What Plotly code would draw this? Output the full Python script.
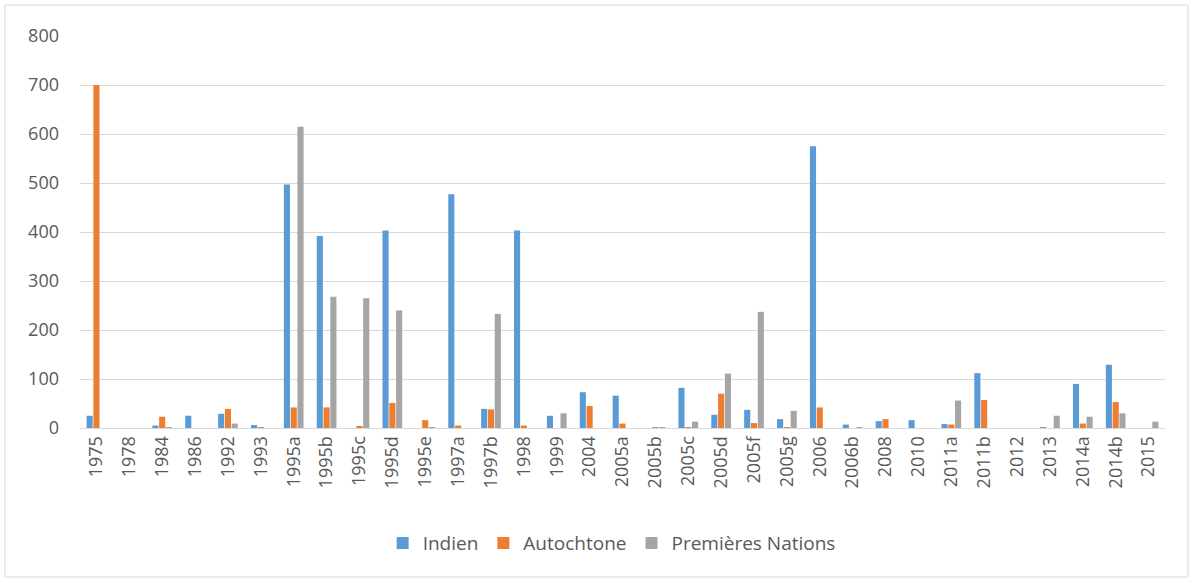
import plotly.graph_objects as go

categories = ["1975","1978","1984","1986","1992","1993","1995a","1995b","1995c","1995d","1995e",
              "1997a","1997b","1998","1999","2004","2005a","2005b","2005c","2005d","2005f","2005g",
              "2006","2006b","2008","2010","2011a","2011b","2012","2013","2014a","2014b","2015"]
indien = [25,0,5,25,29,6,497,392,0,403,0,477,39,403,25,73,66,0,82,27,37,18,575,7,14,16,8,112,0,2,90,129,0]
autochtone = [700,0,23,0,39,2,42,42,3,51,16,5,38,5,0,45,9,2,2,70,10,2,42,0,18,0,7,57,0,0,9,53,0]
premieres = [0,0,2,0,9,0,615,268,265,240,2,0,233,0,30,0,0,2,13,111,237,35,0,2,0,0,56,0,0,25,23,30,13]

names = ["Indien", "Autochtone", "Premières Nations"]
colors = ["#5B9BD5", "#ED7D31", "#A5A5A5"]

fig = go.Figure()
for name, vals, c in zip(names, [indien, autochtone, premieres], colors):
    fig.add_trace(go.Bar(name=name, x=categories, y=vals, marker_color=c,
                         marker_line_width=0))

W, H = 1193, 582
ml, mr, mt, mb = 80, 28, 36, 154
pw, ph = W - ml - mr, H - mt - mb

fig.update_layout(
    width=W, height=H,
    margin=dict(l=ml, r=mr, t=mt, b=mb),
    paper_bgcolor="white", plot_bgcolor="white",
    barmode="group", bargap=0.38, bargroupgap=0.1,
    font=dict(family="Open Sans, Carlito, sans-serif", color="#595959", size=18),
    showlegend=True,
    legend=dict(orientation="h", x=0.49, xanchor="center", y=-0.245, yanchor="top",
                font=dict(size=19, color="#595959"), itemwidth=30, traceorder="normal",
                tracegroupgap=0),
    xaxis=dict(type="category", tickangle=-90, showgrid=False, showline=True,
               linecolor="#d9d9d9", linewidth=1, ticks="", tickfont=dict(size=18)),
    yaxis=dict(range=[0, 800], dtick=100, showgrid=True, gridcolor="#d9d9d9",
               gridwidth=1, zeroline=False, showline=False, ticks="",
               tickfont=dict(size=18), ticklabelstandoff=20),
    shapes=[dict(type="rect", xref="paper", yref="paper",
                 x0=(5 - ml) / pw, x1=(W - 5 - ml) / pw,
                 y0=-(H - 5 - mt - ph) / ph,
                 y1=1 + (mt - 5) / ph,
                 line=dict(color="#d9d9d9", width=1), fillcolor="rgba(0,0,0,0)")],
)
fig.write_html("out.html")
